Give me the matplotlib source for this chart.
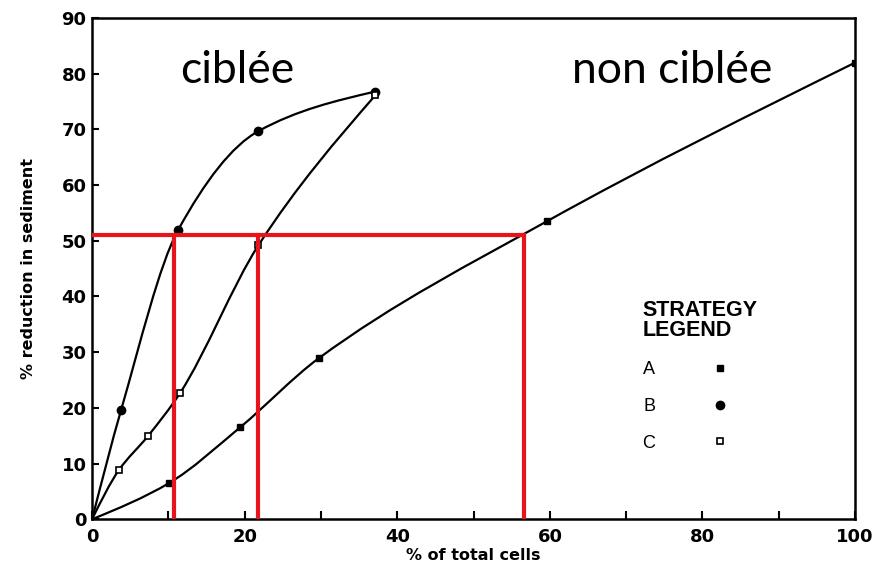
import numpy as np
import matplotlib
matplotlib.use("Agg")
import matplotlib.pyplot as plt
from matplotlib.path import Path
from matplotlib.patches import PathPatch
from matplotlib.lines import Line2D

# strategy A (non ciblee), filled squares
a_x = [0, 10.1, 19.4, 29.7, 59.6, 100]
a_y = [0, 6.5, 16.5, 28.9, 53.5, 82.0]
# strategy B, filled circles
b_x = [0, 3.8, 11.3, 21.8, 37.1]
b_y = [0, 19.6, 52.0, 69.7, 76.8]
# strategy C, open squares
c_x = [0, 3.5, 7.3, 11.5, 21.8, 37.1]
c_y = [0, 8.8, 14.9, 22.6, 49.2, 76.1]

# red guide lines at 50 % reduction
target_y = 51
cross_x = [10.8, 21.7, 56.6]

x_ticks = [0, 20, 40, 60, 80, 100]
y_ticks = list(range(0, 100, 10))


def smooth_path(xs, ys):
    # monotone cubic (Fritsch-Carlson) drawn as bezier segments
    x = np.asarray(xs, float)
    y = np.asarray(ys, float)
    h = np.diff(x)
    d = np.diff(y) / h
    m = np.zeros_like(x)
    for i in range(1, len(x) - 1):
        if d[i - 1] * d[i] > 0:
            w1 = 2 * h[i] + h[i - 1]
            w2 = h[i] + 2 * h[i - 1]
            m[i] = (w1 + w2) / (w1 / d[i - 1] + w2 / d[i])
    m[0] = 1.5 * d[0] - 0.5 * m[1]
    m[-1] = 1.5 * d[-1] - 0.5 * m[-2]
    verts = [(x[0], y[0])]
    codes = [Path.MOVETO]
    for i in range(len(h)):
        verts += [(x[i] + h[i] / 3, y[i] + m[i] * h[i] / 3),
                  (x[i + 1] - h[i] / 3, y[i + 1] - m[i + 1] * h[i] / 3),
                  (x[i + 1], y[i + 1])]
        codes += [Path.CURVE4] * 3
    return Path(verts, codes)


fig = plt.figure(figsize=(8.77, 5.65), dpi=100)
ax = fig.add_axes([0.105, 0.081, 0.87, 0.887])

for xs, ys in [(a_x, a_y), (b_x, b_y), (c_x, c_y)]:
    ax.add_patch(PathPatch(smooth_path(xs, ys), fill=False, lw=1.6, color="black", zorder=3))

ax.plot(a_x[1:], a_y[1:], ls="none", marker="s", ms=5, color="black", zorder=4)
ax.plot(b_x[1:], b_y[1:], ls="none", marker="o", ms=6, color="black", zorder=4)
ax.plot(c_x[1:], c_y[1:], ls="none", marker="s", ms=5, mfc="white", mec="black", mew=1.2, zorder=4)

ax.plot([0, cross_x[-1]], [target_y, target_y], color="#e8141b", lw=3, zorder=5)
for cx in cross_x:
    ax.plot([cx, cx], [0, target_y], color="#e8141b", lw=3, zorder=5)

ax.text(19, 80.5, "ciblée", fontsize=32, family="Lato", ha="center", va="center")
ax.text(76, 80.5, "non ciblée", fontsize=32, family="Lato", ha="center", va="center")

ax.set_xlim(0, 100)
ax.set_ylim(0, 90)
ax.set_xticks(x_ticks)
ax.set_xticks(range(10, 100, 20), minor=True)
ax.set_yticks(y_ticks)
ax.tick_params(axis="x", direction="in", length=6, width=1.5, labelsize=13, pad=6)
ax.tick_params(axis="x", which="minor", direction="in", length=6, width=1.5)
ax.tick_params(axis="y", direction="in", length=5, width=1.5, labelsize=13, pad=4)
for lab in ax.get_xticklabels() + ax.get_yticklabels():
    lab.set_fontweight("bold")
    lab.set_family("DejaVu Sans")
for sp in ax.spines.values():
    sp.set_linewidth(1.8)

ax.set_xlabel("% of total cells", fontsize=11.5, fontweight="bold", family="DejaVu Sans", labelpad=2)
ax.set_ylabel("% reduction in sediment", fontsize=11.5, fontweight="bold", family="DejaVu Sans")
ax.yaxis.set_label_coords(-0.074, 0.5)

handles = [
    Line2D([], [], ls="none", marker="s", ms=5, color="black"),
    Line2D([], [], ls="none", marker="o", ms=6, color="black"),
    Line2D([], [], ls="none", marker="s", ms=5, mfc="white", mec="black", mew=1.2),
]
leg = ax.legend(handles, ["A", "B", "C"], title="STRATEGY\nLEGEND", loc="upper left",
                bbox_to_anchor=(0.70, 0.47), frameon=False, markerfirst=False,
                handletextpad=2.6, labelspacing=1.1, alignment="left",
                prop={"family": "Liberation Sans", "size": 13},
                title_fontproperties={"family": "Liberation Sans", "size": 15.5, "weight": "bold"})
leg.get_title().set_linespacing(0.95)

fig.savefig("out.png", dpi=100)
